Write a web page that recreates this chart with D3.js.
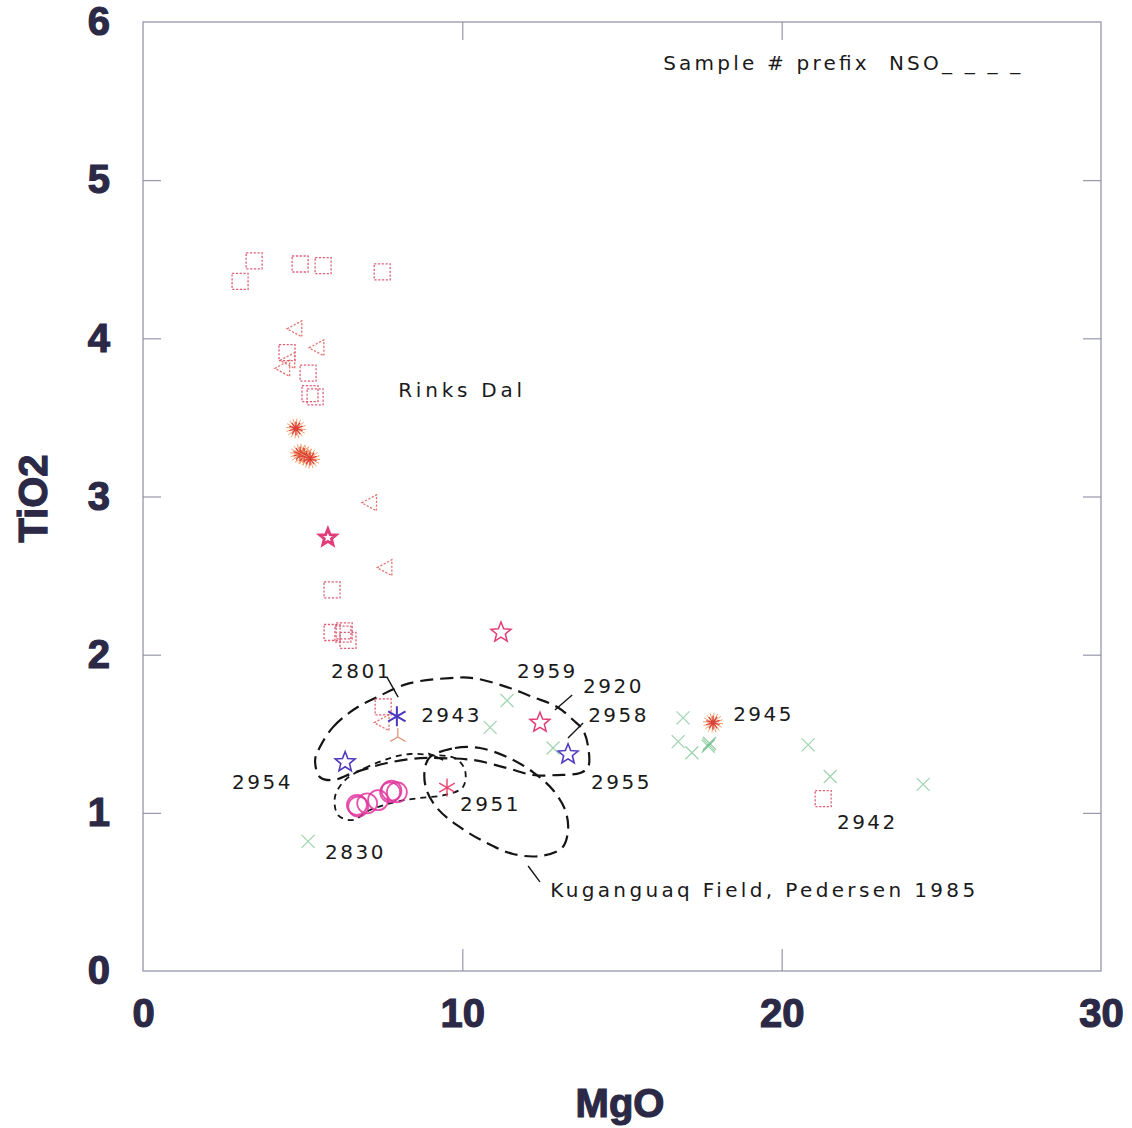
<!DOCTYPE html>
<html>
<head>
<meta charset="utf-8">
<script src="https://cdn.jsdelivr.net/npm/d3@7"></script>
<style>
  html, body { margin: 0; padding: 0; background: #fff; }
  svg { display: block; }
</style>
</head>
<body>
<svg id="chart" width="1132" height="1128"></svg>
<script>
// MgO vs TiO2 (wt%) for Rinks Dal and NSO samples, with the Kuganguaq field outline.

const xTicks = [0, 10, 20, 30];
const yTicks = [0, 1, 2, 3, 4, 5, 6];

// [MgO, TiO2]
const squares = [
  [3.04, 4.36], [3.48, 4.49], [4.92, 4.47], [5.64, 4.46], [7.49, 4.42],
  [4.51, 3.91], [5.17, 3.78], [5.23, 3.65], [5.39, 3.63],
  [5.92, 2.41], [5.92, 2.14], [6.26, 2.13], [6.42, 2.09], [6.30, 2.15],
  [7.52, 1.67], [21.30, 1.09]
];
const triangles = [
  [4.76, 4.06], [5.45, 3.94], [4.54, 3.86], [4.38, 3.81],
  [7.10, 2.96], [7.58, 2.55], [7.49, 1.57]
];
const bursts = [
  [4.79, 3.43], [4.92, 3.27], [5.05, 3.26], [5.23, 3.24], [17.85, 1.57]
];
const tripods = [[7.98, 1.48]];
const pinkStars = [[5.79, 2.74], [11.21, 2.14], [12.43, 1.57]];
const blueStars = [[6.33, 1.32], [13.31, 1.37]];
const blueAsterisks = [[7.95, 1.61]];
const pinkAsterisks = [[9.52, 1.16]];
const circles = [
  [6.70, 1.05], [6.74, 1.04], [7.02, 1.06], [7.36, 1.08],
  [7.74, 1.13], [7.78, 1.14], [7.95, 1.13]
];
const crosses = [
  [5.17, 0.82], [10.87, 1.54], [11.40, 1.71], [12.84, 1.41],
  [16.91, 1.60], [16.76, 1.45], [17.19, 1.38], [17.70, 1.42], [17.74, 1.44], [17.72, 1.43],
  [20.83, 1.43], [21.52, 1.23], [24.43, 1.18]
];

// Field outlines, [MgO, TiO2]
const nsoField = [
  [5.54, 1.416], [5.95, 1.542], [6.58, 1.650], [7.33, 1.732], [8.36, 1.820],
  [9.61, 1.852], [10.34, 1.852], [11.40, 1.795], [12.21, 1.732], [12.97, 1.669],
  [13.47, 1.587], [13.78, 1.523], [13.94, 1.416], [13.94, 1.290], [13.69, 1.252],
  [12.97, 1.239], [12.21, 1.239], [11.40, 1.283], [10.34, 1.334], [9.30, 1.346],
  [8.68, 1.346], [7.64, 1.315], [6.58, 1.252], [5.95, 1.207], [5.54, 1.226], [5.39, 1.334]
];
const kuganguaqField = [
  [8.99, 1.353], [9.77, 1.410], [10.55, 1.410], [11.40, 1.353], [12.21, 1.258],
  [12.84, 1.144], [13.22, 1.018], [13.31, 0.891], [13.12, 0.778], [12.43, 0.727],
  [11.59, 0.740], [10.71, 0.815], [9.87, 0.917], [9.21, 1.030], [8.86, 1.157], [8.83, 1.283]
];
const lowField = [
  [6.33, 1.207], [6.95, 1.283], [7.74, 1.346], [8.36, 1.372], [9.05, 1.365],
  [9.77, 1.346], [10.08, 1.271], [10.02, 1.163], [9.46, 1.113], [8.68, 1.094],
  [7.89, 1.068], [7.11, 1.018], [6.55, 0.954], [6.11, 0.986], [6.01, 1.100]
];

// Leader lines: [[MgO, TiO2], [MgO, TiO2]]
const leaders = [
  [[7.64, 1.858], [7.99, 1.732]],
  [[13.44, 1.745], [12.90, 1.650]],
  [[13.78, 1.568], [13.31, 1.473]],
  [[8.93, 1.378], [9.40, 1.334]],
  [[12.06, 0.664], [12.43, 0.563]]
];

// Annotations: [text, MgO, TiO2]
const sampleLabels = [
  ["2801", 5.89, 1.852], ["2959", 11.71, 1.852], ["2920", 13.78, 1.757],
  ["2943", 8.71, 1.574], ["2958", 13.94, 1.574], ["2945", 18.48, 1.580],
  ["2954", 2.79, 1.150], ["2955", 14.03, 1.150], ["2951", 9.93, 1.011],
  ["2942", 21.73, 0.898], ["2830", 5.70, 0.708]
];
const noteLabels = [
  ["Rinks Dal", 7.99, 3.628],
  ["Kuganguaq Field, Pedersen 1985", 12.75, 0.468],
  ["Sample # prefix  NSO_ _ _ _", 16.29, 5.695]
];
const noteTextLengths = [124, 425, 357];

const svg = d3.select("#chart");
const x = d3.scaleLinear().domain([0, 30]).range([143, 1101]);
const y = d3.scaleLinear().domain([0, 6]).range([971, 22]);

const axisColor = "#8d8ea3";
const tickFont = { family: "'Liberation Sans', Arial, sans-serif", size: 40, color: "#2b2946" };

// Plot frame
svg.append("rect")
  .attr("x", x(0)).attr("y", y(6))
  .attr("width", x(30) - x(0)).attr("height", y(0) - y(6))
  .attr("fill", "none").attr("stroke", axisColor).attr("stroke-width", 1.2);

function styleAxis(g, edgeValues) {
  g.select(".domain").remove();
  g.selectAll(".tick line")
    .attr("stroke", axisColor).attr("stroke-width", 1.1)
    .filter(d => edgeValues.includes(d)).remove();
  g.selectAll(".tick text")
    .attr("font-family", tickFont.family)
    .attr("font-size", tickFont.size)
    .attr("font-weight", "bold")
    .attr("fill", tickFont.color)
    .attr("stroke", tickFont.color).attr("stroke-width", 1.2);
}

svg.append("g").attr("transform", `translate(${x(0)},0)`)
  .call(d3.axisLeft(y).tickValues(yTicks).tickSize(-18).tickPadding(33).tickFormat(d3.format("d")))
  .call(g => styleAxis(g, [0, 6]));
svg.append("g").attr("transform", `translate(${x(30)},0)`)
  .call(d3.axisRight(y).tickValues(yTicks).tickSize(-18).tickFormat(""))
  .call(g => styleAxis(g, [0, 6]));
svg.append("g").attr("transform", `translate(0,${y(0)})`)
  .call(d3.axisBottom(x).tickValues(xTicks).tickSize(-22).tickPadding(28).tickFormat(d3.format("d")))
  .call(g => styleAxis(g, [0, 30]));
svg.append("g").attr("transform", `translate(0,${y(6)})`)
  .call(d3.axisTop(x).tickValues(xTicks).tickSize(-18).tickFormat(""))
  .call(g => styleAxis(g, [0, 30]));

// Axis titles
svg.append("text")
  .attr("transform", `translate(47,${(y(0) + y(6)) / 2 + 2}) rotate(-90)`)
  .attr("text-anchor", "middle")
  .attr("font-family", tickFont.family).attr("font-size", 40).attr("font-weight", "bold")
  .attr("fill", tickFont.color).attr("stroke", tickFont.color).attr("stroke-width", 1.2)
  .text("TiO2");
svg.append("text")
  .attr("x", 620).attr("y", 1117)
  .attr("text-anchor", "middle")
  .attr("font-family", tickFont.family).attr("font-size", 40).attr("font-weight", "bold")
  .attr("fill", tickFont.color).attr("stroke", tickFont.color).attr("stroke-width", 1.2)
  .text("MgO");

// Field outlines
const outline = d3.line().x(d => x(d[0])).y(d => y(d[1])).curve(d3.curveCatmullRomClosed.alpha(0.5));
const fields = svg.append("g").attr("fill", "none").attr("stroke", "#151515");
fields.append("path").attr("d", outline(nsoField)).attr("stroke-width", 2.2).attr("stroke-dasharray", "13,7");
fields.append("path").attr("d", outline(kuganguaqField)).attr("stroke-width", 2.2).attr("stroke-dasharray", "13,7");
fields.append("path").attr("d", outline(lowField)).attr("stroke-width", 1.8).attr("stroke-dasharray", "6,5");

// Leader lines
svg.append("g").selectAll("line").data(leaders).join("line")
  .attr("x1", d => x(d[0][0])).attr("y1", d => y(d[0][1]))
  .attr("x2", d => x(d[1][0])).attr("y2", d => y(d[1][1]))
  .attr("stroke", "#151515").attr("stroke-width", 1.4);

// Symbol shapes
const sqPath = s => `M${-s},${-s}h${2 * s}v${2 * s}h${-2 * s}z`;
const triPath = s => `M${-s},0L${s * 0.85},${-s}L${s * 0.85},${s}z`;
const starPath = (R, r) => d3.range(10).map(i => {
  const a = -Math.PI / 2 + i * Math.PI / 5, rad = i % 2 ? r : R;
  return (i ? "L" : "M") + (rad * Math.cos(a)).toFixed(2) + "," + (rad * Math.sin(a)).toFixed(2);
}).join("") + "Z";
const rayPath = (n, R, phase) => d3.range(n).map(i => {
  const a = phase + i * 2 * Math.PI / n;
  return `M0,0L${(R * Math.cos(a)).toFixed(2)},${(R * Math.sin(a)).toFixed(2)}`;
}).join("");
const xPath = s => `M${-s},${-s}L${s},${s}M${-s},${s}L${s},${-s}`;
const at = d => `translate(${x(d[0])},${y(d[1])})`;

const marks = svg.append("g").attr("fill", "none");

marks.selectAll(".sq").data(squares).join("path").attr("class", "sq")
  .attr("transform", at).attr("d", sqPath(8))
  .attr("stroke", "#d8445f").attr("stroke-width", 1.3)
  .attr("stroke-dasharray", "2.2,1.6").attr("opacity", 0.85);

marks.selectAll(".tri").data(triangles).join("path").attr("class", "tri")
  .attr("transform", at).attr("d", triPath(8))
  .attr("stroke", "#dc5c58").attr("stroke-width", 1.3)
  .attr("stroke-dasharray", "2.2,1.6").attr("opacity", 0.85);

marks.selectAll(".tripod").data(tripods).join("path").attr("class", "tripod")
  .attr("transform", at).attr("d", rayPath(3, 9, -Math.PI / 2))
  .attr("stroke", "#e08a70").attr("stroke-width", 1.2);

const burstG = marks.selectAll(".burst").data(bursts).join("g").attr("class", "burst").attr("transform", at);
burstG.append("path").attr("d", rayPath(16, 10, 0.1)).attr("stroke", "#f2a068").attr("stroke-width", 1);
burstG.append("path").attr("d", rayPath(10, 7, 0.3)).attr("stroke", "#dc3f3a").attr("stroke-width", 1.3);

marks.selectAll(".pstar").data(pinkStars).join("path").attr("class", "pstar")
  .attr("transform", at).attr("d", starPath(10.5, 4.6))
  .attr("stroke", "#e23d77").attr("stroke-width", 1.5);
marks.append("path").datum(pinkStars[0])
  .attr("transform", at).attr("d", starPath(7.5, 3.4))
  .attr("stroke", "#e23d77").attr("stroke-width", 2.2);

marks.selectAll(".bstar").data(blueStars).join("path").attr("class", "bstar")
  .attr("transform", at).attr("d", starPath(10.5, 4.6))
  .attr("stroke", "#4f3bbd").attr("stroke-width", 1.6);

marks.selectAll(".bast").data(blueAsterisks).join("path").attr("class", "bast")
  .attr("transform", at).attr("d", rayPath(6, 10, -Math.PI / 2))
  .attr("stroke", "#4a37bd").attr("stroke-width", 2);

marks.selectAll(".past").data(pinkAsterisks).join("path").attr("class", "past")
  .attr("transform", at).attr("d", rayPath(6, 9, -Math.PI / 2))
  .attr("stroke", "#e8456e").attr("stroke-width", 1.4);

marks.selectAll(".circ").data(circles).join("circle").attr("class", "circ")
  .attr("cx", d => x(d[0])).attr("cy", d => y(d[1])).attr("r", 10)
  .attr("stroke", "#e0359e").attr("stroke-width", 1.8).attr("opacity", 0.85);

marks.selectAll(".cross").data(crosses).join("path").attr("class", "cross")
  .attr("transform", at).attr("d", xPath(6.5))
  .attr("stroke", "#4fae6c").attr("stroke-width", 1.2).attr("opacity", 0.55);

// Text annotations
const labelFont = "'DejaVu Sans', Verdana, sans-serif";
svg.append("g").selectAll("text").data(sampleLabels).join("text")
  .attr("x", d => x(d[1])).attr("y", d => y(d[2]))
  .attr("font-family", labelFont).attr("font-size", 20)
  .attr("letter-spacing", 2.5).attr("fill", "#1a1a1a")
  .text(d => d[0]);
svg.append("g").selectAll("text").data(noteLabels).join("text")
  .attr("x", d => x(d[1])).attr("y", d => y(d[2]))
  .attr("font-family", labelFont).attr("font-size", 20)
  .attr("textLength", (d, i) => noteTextLengths[i]).attr("lengthAdjust", "spacing")
  .attr("fill", "#1a1a1a")
  .attr("xml:space", "preserve").style("white-space", "pre")
  .text(d => d[0]);
</script>
</body>
</html>
